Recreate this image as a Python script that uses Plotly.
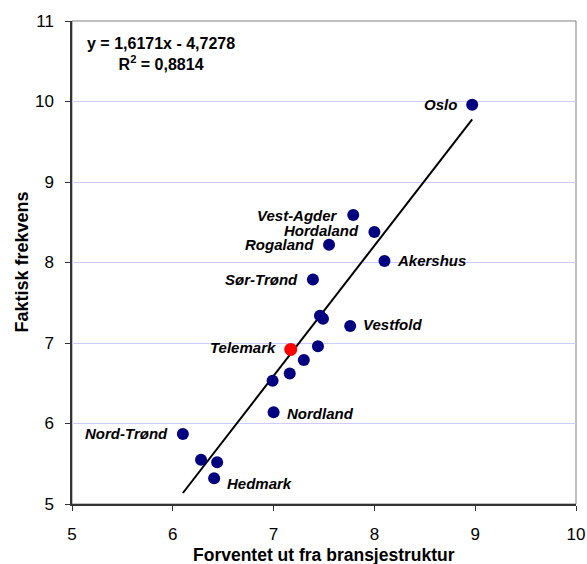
import plotly.graph_objects as go

# ---- data ----
names = ["Oslo", "Vest-Agder", "Hordaland", "Rogaland", "Akershus", "Sør-Trønd",
         "Vestfold", "", "", "Telemark", "", "", "", "", "Nordland", "Nord-Trønd",
         "", "", "Hedmark"]
x_vals = [8.97, 7.79, 8.00, 7.55, 8.10, 7.39,
          7.76, 7.46, 7.49, 7.17, 7.44, 7.30, 7.16, 6.99, 7.00, 6.10,
          6.28, 6.44, 6.41]
y_vals = [9.96, 8.59, 8.38, 8.22, 8.02, 7.79,
          7.21, 7.34, 7.30, 6.92, 6.96, 6.79, 6.62, 6.53, 6.14, 5.87,
          5.55, 5.52, 5.32]
highlight = "Telemark"
slope = 1.6171
intercept = -4.7278
r2 = 0.8814
x_ticks = [5, 6, 7, 8, 9, 10]
y_ticks = [5, 6, 7, 8, 9, 10, 11]
x_title = "Forventet ut fra bransjestruktur"
y_title = "Faktisk frekvens"

# ---- label placement (style) ----
label_side = {
    "Oslo": ("left", 0), "Vest-Agder": ("left", 0), "Hordaland": ("left", 1),
    "Rogaland": ("left", 0), "Akershus": ("right", 0), "Sør-Trønd": ("left", 0),
    "Vestfold": ("right", 2), "Telemark": ("left", 2), "Nordland": ("right", -1),
    "Nord-Trønd": ("left", 0), "Hedmark": ("right", -5),
}

NAVY = "#000080"
FONT = "Liberation Sans, Arial, sans-serif"

fig = go.Figure()

# trend line over data range
xmin, xmax = min(x_vals), max(x_vals)
fig.add_trace(go.Scatter(
    x=[xmin, xmax], y=[slope * xmin + intercept, slope * xmax + intercept],
    mode="lines", line=dict(color="black", width=2), hoverinfo="skip"))

# normal points
nx = [x for x, n in zip(x_vals, names) if n != highlight]
ny = [y for y, n in zip(y_vals, names) if n != highlight]
fig.add_trace(go.Scatter(x=nx, y=ny, mode="markers",
                         marker=dict(color=NAVY, size=12, line=dict(width=0))))
# highlighted point
hx = [x for x, n in zip(x_vals, names) if n == highlight]
hy = [y for y, n in zip(y_vals, names) if n == highlight]
fig.add_trace(go.Scatter(x=hx, y=hy, mode="markers",
                         marker=dict(color="#ff0000", size=13, line=dict(width=0))))

annotations = []
for n, x, y in zip(names, x_vals, y_vals):
    if not n:
        continue
    side, dy = label_side.get(n, ("left", 0))
    annotations.append(dict(
        x=x, y=y, xref="x", yref="y", text=n, showarrow=False,
        xanchor="right" if side == "left" else "left", yanchor="middle",
        xshift=-13 if side == "left" else 11, yshift=dy,
        font=dict(family=FONT, size=15, color="black", weight="bold", style="italic")))

eq = "y = {:.4f}x - {:.4f}".format(slope, -intercept).replace(".", ",")
rr = "R<sup>2</sup> = {:.4f}".format(r2).replace(".", ",")
annotations.append(dict(
    x=0.177, y=0.932, xref="x domain", yref="y domain", text=eq + "<br>" + rr,
    showarrow=False, xanchor="center", yanchor="middle", align="center",
    font=dict(family=FONT, size=16, color="black", weight="bold")))

# axis titles
annotations.append(dict(
    x=0.5, y=0, xref="x domain", yref="y domain", yshift=-51, text=x_title,
    showarrow=False, xanchor="center", yanchor="middle", borderpad=0,
    font=dict(family=FONT, size=17.5, color="black", weight="bold")))
annotations.append(dict(
    x=0, y=0.5, xref="x domain", yref="y domain", xshift=-51, text=y_title,
    showarrow=False, xanchor="center", yanchor="middle", textangle=-90,
    font=dict(family=FONT, size=18, color="black", weight="bold")))

fig.add_shape(type="rect", xref="x domain", yref="y domain", x0=0, x1=1, y0=0, y1=1,
              line=dict(color="#808080", width=1), layer="below")

fig.update_layout(
    width=587, height=564,
    margin=dict(l=72, r=11, t=21, b=60),
    paper_bgcolor="white", plot_bgcolor="white",
    showlegend=False,
    annotations=annotations,
    font=dict(family=FONT, color="black"),
    xaxis=dict(range=[5, 10], tickvals=x_ticks, showgrid=False, zeroline=False,
               automargin=False,
               showline=True, linecolor="#333333", linewidth=1.5,
               ticks="outside", ticklen=5, tickcolor="#333333", ticklabelstandoff=9,
               tickfont=dict(family=FONT, size=17, color="black")),
    yaxis=dict(range=[5, 11], tickvals=y_ticks, showgrid=True, gridcolor="#ccccff",
               gridwidth=1, zeroline=False, automargin=False,
               showline=True, linecolor="#333333", linewidth=1.5,
               ticks="outside", ticklen=5, tickcolor="#333333", ticklabelstandoff=8,
               tickfont=dict(family=FONT, size=17, color="black")),
)

fig.write_html("out.html", config={"displayModeBar": False},
               post_script="document.body.style.margin='0';")
